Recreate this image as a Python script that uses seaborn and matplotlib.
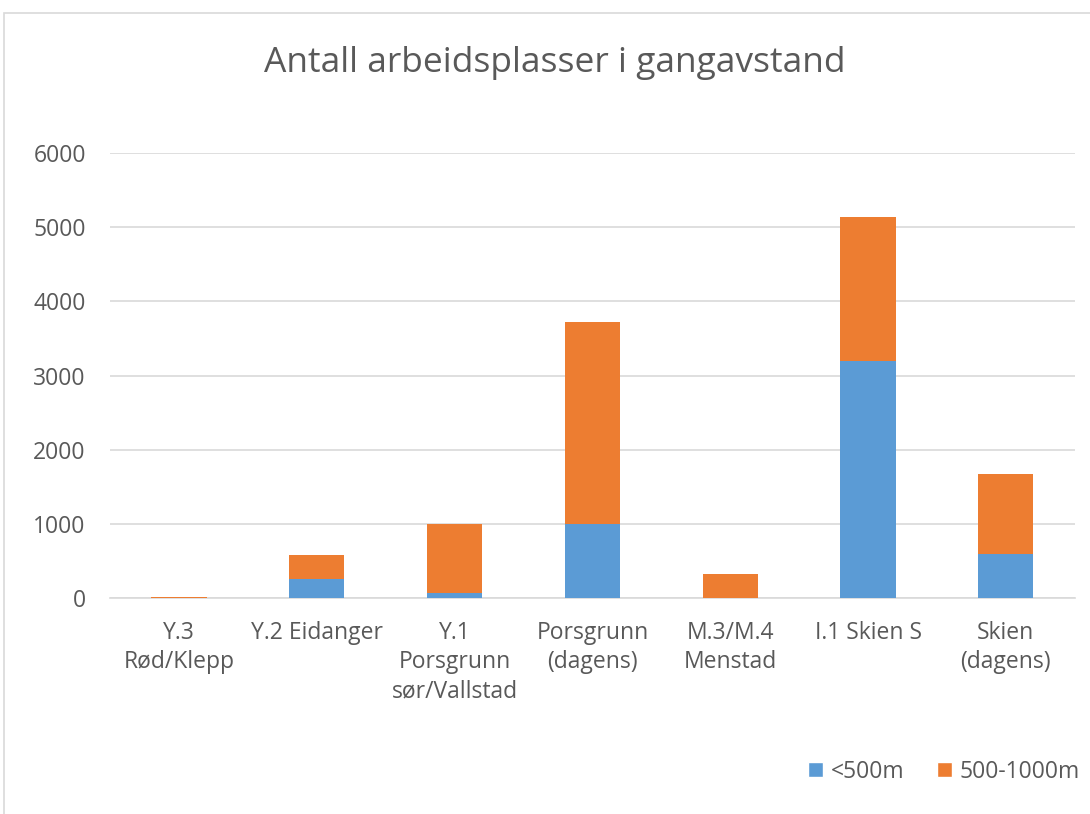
import matplotlib
matplotlib.use("Agg")
import matplotlib.pyplot as plt
import seaborn as sns
import pandas as pd
from matplotlib.patches import Rectangle, Patch

categories = ["Y.3\nRød/Klepp", "Y.2 Eidanger", "Y.1\nPorsgrunn\nsør/Vallstad",
              "Porsgrunn\n(dagens)", "M.3/M.4\nMenstad", "I.1 Skien S", "Skien\n(dagens)"]
under_500 = [3, 260, 65, 1000, 5, 3200, 600]
m500_1000 = [12, 330, 935, 2720, 325, 1940, 1070]
yticks = [0, 1000, 2000, 3000, 4000, 5000, 6000]

blue = "#5B9BD5"
orange = "#ED7D31"
gray_text = "#595959"

sns.set_theme(style="white")
plt.rcParams['font.family'] = ['Open Sans', 'DejaVu Sans']

df = pd.DataFrame({"cat": categories, "a": under_500, "b": m500_1000})
df["total"] = df["a"] + df["b"]

fig = plt.figure(figsize=(10.9, 8.14), dpi=100)
ax = fig.add_axes([0.101, 0.265, 0.885, 0.547])

sns.barplot(data=df, x="cat", y="total", color=orange, width=0.4, ax=ax,
            saturation=1, linewidth=0, zorder=3)
sns.barplot(data=df, x="cat", y="a", color=blue, width=0.4, ax=ax,
            saturation=1, linewidth=0, zorder=4)

ax.set_ylim(0, 6000)
ax.set_yticks(yticks)
ax.set_xlim(-0.5, len(categories) - 0.5)
ax.yaxis.grid(True, color="#D9D9D9", linewidth=1.2, zorder=0)
ax.set_axisbelow(True)
for s in ["top", "right", "left"]:
    ax.spines[s].set_visible(False)
ax.spines["bottom"].set_color("#D9D9D9")
ax.spines["bottom"].set_linewidth(1.2)
ax.tick_params(axis="both", length=0, labelsize=16.5, labelcolor=gray_text)
ax.tick_params(axis="x", pad=16)
ax.tick_params(axis="y", pad=17.5)
ax.set_xlabel("")
ax.set_ylabel("")
for lab in ax.get_xticklabels():
    lab.set_linespacing(1.3)

fig.text(0.509, 0.922, "Antall arbeidsplasser i gangavstand", ha="center",
         va="center", fontsize=25.5, color=gray_text)

handles = [Patch(facecolor=blue, label="<500m"), Patch(facecolor=orange, label="500-1000m")]
fig.legend(handles=handles, loc="center", bbox_to_anchor=(0.866, 0.052), ncol=2,
           frameon=False, fontsize=16.5, labelcolor=gray_text, handlelength=0.65,
           handleheight=0.65, columnspacing=1.4, handletextpad=0.35)

fig.patches.append(Rectangle((0.0037, -0.1), 1.1, 1.084, transform=fig.transFigure,
                             fill=False, edgecolor="#D9D9D9", linewidth=1.2))

fig.savefig("out.png", dpi=100, facecolor="white")
